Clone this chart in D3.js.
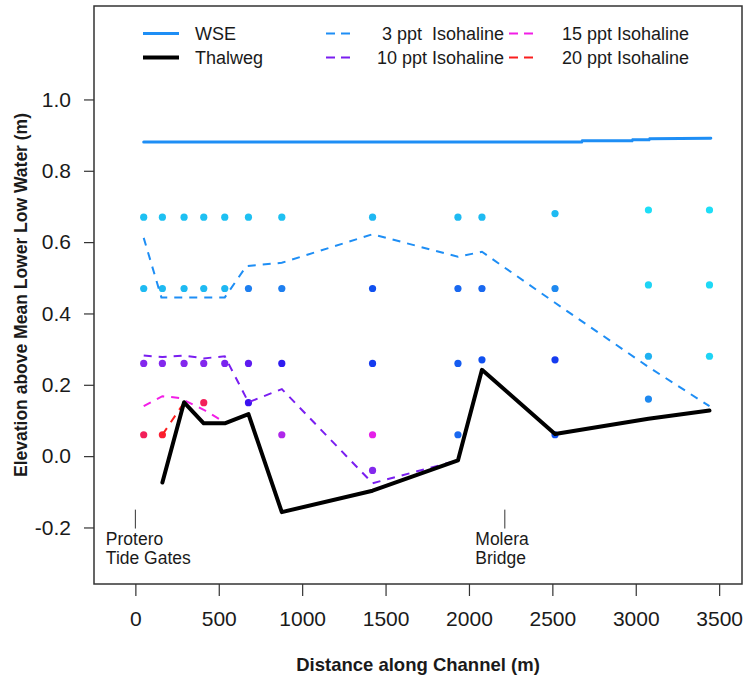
<!DOCTYPE html>
<html>
<head>
<meta charset="utf-8">
<script src="https://cdn.jsdelivr.net/npm/d3@7/dist/d3.min.js"></script>
<style>
    body { margin: 0; background: #fff; }
    svg text { font-family: "Liberation Sans", Arial, sans-serif; fill: #1a1a1a; }
</style>
</head>
<body>
<div id="chartArea"></div>
<script>
// Salinity samples: distance (m), elevation (m MLLW), salinity (ppt)
let sampleDistance = [
    50, 50, 50, 50,
    162, 162, 162, 162,
    292, 292, 292,
    410, 410, 410, 410,
    536, 536, 536,
    678, 678, 678, 678,
    878, 878, 878, 878,
    1422, 1422, 1422, 1422, 1422,
    1934, 1934, 1934, 1934,
    2078, 2078, 2078,
    2516, 2516, 2516, 2516,
    3076, 3076, 3076, 3076,
    3442, 3442, 3442
];
let sampleElevation = [
    0.67, 0.47, 0.26, 0.06,
    0.67, 0.47, 0.26, 0.06,
    0.67, 0.47, 0.26,
    0.67, 0.47, 0.26, 0.15,
    0.67, 0.47, 0.26,
    0.67, 0.47, 0.26, 0.15,
    0.67, 0.47, 0.26, 0.06,
    0.67, 0.47, 0.26, 0.06, -0.04,
    0.67, 0.47, 0.26, 0.06,
    0.67, 0.47, 0.27,
    0.68, 0.47, 0.27, 0.06,
    0.69, 0.48, 0.28, 0.16,
    0.69, 0.48, 0.28
];
let sampleSalinity = [
    2, 2.2, 12, 19,
    2, 2.2, 12, 20,
    2, 2.2, 12,
    2, 2.2, 12, 19,
    2, 2.3, 11.5,
    2, 4.5, 10.5, 9.5,
    2, 4.5, 9, 13.5,
    2.3, 6.5, 7.5, 15, 12,
    2.2, 5.5, 6, 5.5,
    2.2, 5.5, 6.5,
    2.2, 4, 7.5, 6.5,
    0.8, 1.2, 2.5, 4,
    0.8, 1, 1.2
];

// Water surface elevation
let wseDistance = [50, 2676, 2680, 2978, 2982, 3080, 3084, 3450];
let wseElevation = [0.881, 0.881, 0.884, 0.884, 0.887, 0.887, 0.890, 0.891];

// Thalweg (channel bottom)
let thalwegDistance = [162, 292, 410, 536, 678, 878, 1422, 1934, 2078, 2516, 3076, 3442];
let thalwegElevation = [-0.074, 0.151, 0.092, 0.092, 0.118, -0.157, -0.097, -0.012, 0.242, 0.062, 0.105, 0.128];

// Isohalines
let iso3Distance = [50, 156, 536, 666, 878, 1422, 1934, 2078, 2516, 3076, 3442];
let iso3Elevation = [0.612, 0.445, 0.445, 0.533, 0.542, 0.622, 0.559, 0.573, 0.43, 0.25, 0.14];

let iso10Distance = [50, 162, 292, 410, 536, 678, 878, 1422, 1934];
let iso10Elevation = [0.282, 0.278, 0.282, 0.274, 0.28, 0.151, 0.188, -0.076, -0.012];

let iso15Distance = [50, 162, 266, 410, 536];
let iso15Elevation = [0.14, 0.168, 0.163, 0.13, 0.095];

let iso20Distance = [162, 292];
let iso20Elevation = [0.06, 0.15];

// Axis ticks
let xTicks = [0, 500, 1000, 1500, 2000, 2500, 3000, 3500];
let yTicks = [-0.2, 0.0, 0.2, 0.4, 0.6, 0.8, 1.0];

// Landmarks along the channel
let landmarkDistance = [0, 2215];
let landmarkLabels = [["Protero", "Tide Gates"], ["Molera", "Bridge"]];

function zip(xs, ys) {
    return xs.map((d, i) => [d, ys[i]]);
}

function drawGraph() {

    let margins = { top: 6, right: 2, bottom: 95, left: 94 };
    let svgWidth = 744 - margins.left - margins.right,
        svgHeight = 679 - margins.top - margins.bottom;

    let svg = d3.select('#chartArea')
        .append('svg')
            .attr('width', 744)
            .attr('height', 679);

    let chart = svg.append('g')
            .attr('transform', 'translate(' + margins.left + ',' + margins.top + ')');

    let xScale = d3.scaleLinear()
        .domain([-248, 3637])
        .range([0, svgWidth]);

    let yScale = d3.scaleLinear()
        .domain([-0.3585, 1.262])
        .range([svgHeight, 0]);

    // salinity colour ramp (cyan -> blue -> violet -> magenta -> red)
    let colorScale = d3.scaleLinear()
        .domain([0.5, 2, 3.5, 5, 6.5, 8, 9.5, 11, 12.5, 15, 19, 20])
        .range(['#1EE6F8', '#1EC0F2', '#1E94F0', '#1E74F0', '#1050F0', '#1830F0',
                '#3A12F0', '#7020F0', '#8C2CEC', '#E420E8', '#F2205A', '#FA1E34'])
        .clamp(true);

    let line = d3.line()
        .x(d => xScale(d[0]))
        .y(d => yScale(d[1]));

    // sample points
    chart.selectAll('.dot')
        .data(d3.range(sampleDistance.length))
        .enter().append('circle')
            .attr('class', 'dot')
            .attr('r', 3.6)
            .attr('cx', i => xScale(sampleDistance[i]))
            .attr('cy', i => yScale(sampleElevation[i]))
            .attr('fill', i => colorScale(sampleSalinity[i]));

    // isohalines
    let isohalines = [
        { pts: zip(iso3Distance, iso3Elevation), color: '#1E8EF5' },
        { pts: zip(iso10Distance, iso10Elevation), color: '#7A1EF0' },
        { pts: zip(iso15Distance, iso15Elevation), color: '#F21EE6' },
        { pts: zip(iso20Distance, iso20Elevation), color: '#FA1E1E' }
    ];
    isohalines.forEach(iso => {
        chart.append('path')
            .attr('d', line(iso.pts))
            .attr('fill', 'none')
            .attr('stroke', iso.color)
            .attr('stroke-width', 2)
            .attr('stroke-dasharray', '8,7');
    });

    chart.append('path')
        .attr('d', line(zip(wseDistance, wseElevation)))
        .attr('fill', 'none')
        .attr('stroke', '#1E8EF5')
        .attr('stroke-width', 3)
        .attr('stroke-linecap', 'round');

    chart.append('path')
        .attr('d', line(zip(thalwegDistance, thalwegElevation)))
        .attr('fill', 'none')
        .attr('stroke', '#000')
        .attr('stroke-width', 4)
        .attr('stroke-linejoin', 'round')
        .attr('stroke-linecap', 'round');

    // landmark markers
    landmarkDistance.forEach((d, i) => {
        let lx = xScale(d);
        chart.append('line')
            .attr('x1', lx).attr('x2', lx)
            .attr('y1', yScale(-0.15)).attr('y2', yScale(-0.203))
            .attr('stroke', '#333')
            .attr('stroke-width', 1);
        landmarkLabels[i].forEach((t, k) => {
            chart.append('text')
                .attr('x', lx - 29.5)
                .attr('y', yScale(-0.2) + 18 + k * 18.5)
                .attr('font-size', 17.5)
                .text(t);
        });
    });

    // box
    chart.append('rect')
        .attr('width', svgWidth)
        .attr('height', svgHeight)
        .attr('fill', 'none')
        .attr('stroke', '#333')
        .attr('stroke-width', 1.5);

    let xAxis = chart.append('g')
        .attr('class', 'x axis')
        .attr('transform', 'translate(0, ' + svgHeight + ')')
        .call(
            d3.axisBottom(xScale)
                .tickValues(xTicks)
                .tickSize(12)
                .tickPadding(15)
                .tickFormat(d3.format('d'))
        );

    let yAxis = chart.append('g')
        .attr('class', 'y axis')
        .call(
            d3.axisLeft(yScale)
                .tickValues(yTicks)
                .tickSize(10)
                .tickPadding(13)
                .tickFormat(d => d3.format('.1f')(d).replace('−', '-'))
        );

    [xAxis, yAxis].forEach(ax => {
        ax.select('.domain').remove();
        ax.selectAll('line').attr('stroke', '#333').attr('stroke-width', 1.2);
        ax.selectAll('text')
            .attr('fill', '#1a1a1a')
            .style('font-family', '"Liberation Sans", Arial, sans-serif')
            .style('font-size', '21px');
    });

    // axis titles
    svg.append('text')
        .attr('x', margins.left + svgWidth / 2)
        .attr('y', 671)
        .attr('text-anchor', 'middle')
        .attr('font-size', 18.5)
        .attr('font-weight', 'bold')
        .text('Distance along Channel (m)');

    svg.append('text')
        .attr('transform', 'translate(27,' + (margins.top + svgHeight / 2) + ') rotate(-90)')
        .attr('text-anchor', 'middle')
        .attr('font-size', 17.5)
        .attr('font-weight', 'bold')
        .text('Elevation above Mean Lower Low Water (m)');

    // legend
    let legend = svg.append('g').attr('class', 'legend');

    legend.append('line')
        .attr('x1', 143).attr('x2', 179).attr('y1', 33.5).attr('y2', 33.5)
        .attr('stroke', '#1E8EF5').attr('stroke-width', 3);
    legend.append('line')
        .attr('x1', 143).attr('x2', 179).attr('y1', 57.5).attr('y2', 57.5)
        .attr('stroke', '#000').attr('stroke-width', 4);
    legend.append('text').attr('x', 195).attr('y', 33.5).attr('dy', '0.35em')
        .attr('font-size', 18).text('WSE');
    legend.append('text').attr('x', 195).attr('y', 57.5).attr('dy', '0.35em')
        .attr('font-size', 18).text('Thalweg');

    let isoLegend = [
        { label: '3 ppt  Isohaline', color: '#1E8EF5', col: 0, row: 0 },
        { label: '10 ppt Isohaline', color: '#7A1EF0', col: 0, row: 1 },
        { label: '15 ppt Isohaline', color: '#F21EE6', col: 1, row: 0 },
        { label: '20 ppt Isohaline', color: '#FA1E1E', col: 1, row: 1 }
    ];
    isoLegend.forEach(item => {
        let ly = item.row === 0 ? 33.5 : 57.5;
        let x0 = item.col === 0 ? 326 : 509;
        legend.append('line')
            .attr('x1', x0).attr('x2', x0 + 24).attr('y1', ly).attr('y2', ly)
            .attr('stroke', item.color).attr('stroke-width', 2)
            .attr('stroke-dasharray', '9,6');
        if (item.col === 0) {
            legend.append('text').attr('x', 504).attr('y', ly).attr('dy', '0.35em')
                .attr('text-anchor', 'end').attr('font-size', 18)
                .style('white-space', 'pre').text(item.label);
        } else {
            legend.append('text').attr('x', 562).attr('y', ly).attr('dy', '0.35em')
                .attr('font-size', 18).text(item.label);
        }
    });
}

drawGraph();
</script>
</body>
</html>
